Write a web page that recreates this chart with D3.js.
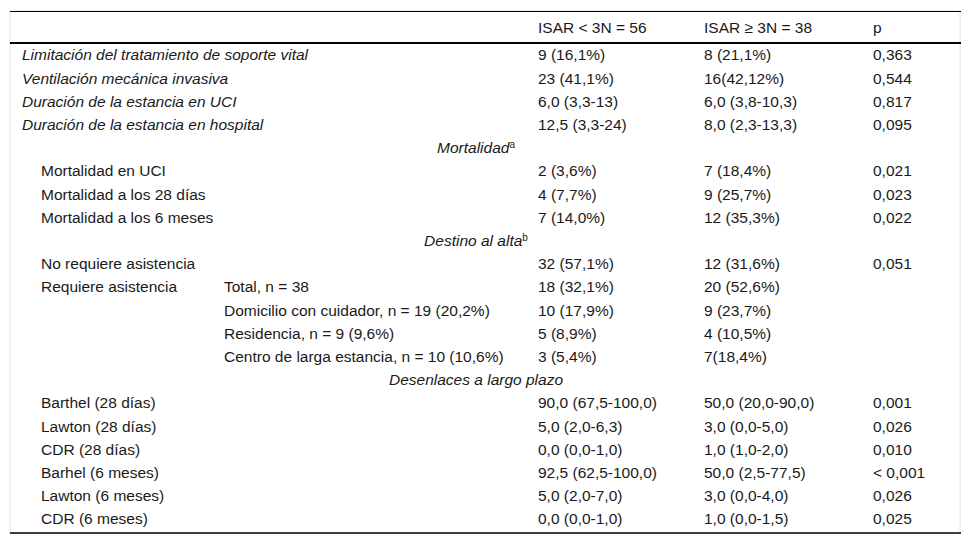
<!DOCTYPE html>
<html lang="es">
<head>
<meta charset="UTF-8">
<title>Desenlaces según ISAR</title>
<script src="https://d3js.org/d3.v7.min.js"></script>
<style>
    body { margin: 0; background: #fff; }
    svg text { font-family: "Liberation Sans", Arial, sans-serif; font-size: 15.5px; fill: #1a1a1a; }
    .it { font-style: italic; }
    .sup { font-style: normal; font-size: 10px; }
</style>
</head>
<body>
<svg width="971" height="545"></svg>
<script>
// cabecera de columnas
const headers = ["ISAR < 3N = 56", "ISAR \u2265 3N = 38", "p"];

// filas: tipo (m = variable principal, s = sección, i = indentada), etiqueta, subetiqueta
const rowKinds = ["m","m","m","m","s","i","i","i","s","i","i","i","i","i","s","i","i","i","i","i","i"];
const rowLabels = [
    "Limitación del tratamiento de soporte vital",
    "Ventilación mecánica invasiva",
    "Duración de la estancia en UCI",
    "Duración de la estancia en hospital",
    "Mortalidad",
    "Mortalidad en UCI",
    "Mortalidad a los 28 días",
    "Mortalidad a los 6 meses",
    "Destino al alta",
    "No requiere asistencia",
    "Requiere asistencia",
    "", "", "",
    "Desenlaces a largo plazo",
    "Barthel (28 días)",
    "Lawton (28 días)",
    "CDR (28 días)",
    "Barhel (6 meses)",
    "Lawton (6 meses)",
    "CDR (6 meses)"
];
const rowSup = ["","","","","a","","","","b","","","","","","","","","","","",""];
const subLabels = ["","","","","","","","","","",
    "Total, n = 38",
    "Domicilio con cuidador, n = 19 (20,2%)",
    "Residencia, n = 9 (9,6%)",
    "Centro de larga estancia, n = 10 (10,6%)",
    "","","","","","",""];
const isarLow = ["9 (16,1%)","23 (41,1%)","6,0 (3,3-13)","12,5 (3,3-24)","",
    "2 (3,6%)","4 (7,7%)","7 (14,0%)","",
    "32 (57,1%)","18 (32,1%)","10 (17,9%)","5 (8,9%)","3 (5,4%)","",
    "90,0 (67,5-100,0)","5,0 (2,0-6,3)","0,0 (0,0-1,0)","92,5 (62,5-100,0)","5,0 (2,0-7,0)","0,0 (0,0-1,0)"];
const isarHigh = ["8 (21,1%)","16(42,12%)","6,0 (3,8-10,3)","8,0 (2,3-13,3)","",
    "7 (18,4%)","9 (25,7%)","12 (35,3%)","",
    "12 (31,6%)","20 (52,6%)","9 (23,7%)","4 (10,5%)","7(18,4%)","",
    "50,0 (20,0-90,0)","3,0 (0,0-5,0)","1,0 (1,0-2,0)","50,0 (2,5-77,5)","3,0 (0,0-4,0)","1,0 (0,0-1,5)"];
const pValues = ["0,363","0,544","0,817","0,095","",
    "0,021","0,023","0,022","",
    "0,051","","","","","",
    "0,001","0,026","0,010","< 0,001","0,026","0,025"];

const svg = d3.select("svg");
const left = 10, right = 961;
const topLine = 11, headLine = 43, bottomLine = 533;

const y = d3.scalePoint()
    .domain(d3.range(rowKinds.length))
    .range([55, 519]);

const x = d3.scaleOrdinal()
    .domain(["main", "indent", "sub", "low", "high", "p", "section"])
    .range([22, 41, 224, 538, 704, 873, 476]);

// bordes laterales claros
svg.append("rect")
    .attr("x", left).attr("y", topLine)
    .attr("width", right - 1 - left).attr("height", bottomLine - topLine)
    .attr("fill", "none").attr("stroke", "#e4e4e4").attr("stroke-width", 1);

// líneas horizontales
svg.append("line").attr("x1", left).attr("x2", right).attr("y1", topLine + 0.5).attr("y2", topLine + 0.5)
    .attr("stroke", "#000").attr("stroke-width", 1);
svg.append("line").attr("x1", left).attr("x2", right).attr("y1", headLine).attr("y2", headLine)
    .attr("stroke", "#000").attr("stroke-width", 2);
svg.append("line").attr("x1", left).attr("x2", right).attr("y1", bottomLine).attr("y2", bottomLine)
    .attr("stroke", "#000").attr("stroke-width", 1.5);

// cabecera
svg.selectAll("text.head")
    .data(headers)
    .enter().append("text")
    .attr("class", "head")
    .attr("x", (d, i) => x(["low", "high", "p"][i]))
    .attr("y", 28)
    .attr("dy", "0.35em")
    .text(d => d);

const rows = svg.selectAll("g.row")
    .data(rowKinds.map((k, i) => ({ k, i })))
    .enter().append("g")
    .attr("class", "row")
    .attr("transform", d => `translate(0,${y(d.i)})`);

// etiquetas
rows.filter(d => rowLabels[d.i] !== "")
    .append("text")
    .attr("class", d => d.k === "i" ? "" : "it")
    .attr("x", d => x({ m: "main", i: "indent", s: "section" }[d.k]))
    .attr("text-anchor", d => d.k === "s" ? "middle" : "start")
    .attr("dy", "0.35em")
    .text(d => rowLabels[d.i])
    .each(function(d) {
        if (rowSup[d.i]) {
            d3.select(this).append("tspan")
                .attr("class", "sup")
                .attr("dy", "-0.5em")
                .text(rowSup[d.i]);
        }
    });

rows.filter(d => subLabels[d.i] !== "")
    .append("text")
    .attr("x", x("sub"))
    .attr("dy", "0.35em")
    .text(d => subLabels[d.i]);

[["low", isarLow], ["high", isarHigh], ["p", pValues]].forEach(([key, arr]) => {
    rows.filter(d => arr[d.i] !== "")
        .append("text")
        .attr("x", x(key))
        .attr("dy", "0.35em")
        .text(d => arr[d.i]);
});
</script>
</body>
</html>
